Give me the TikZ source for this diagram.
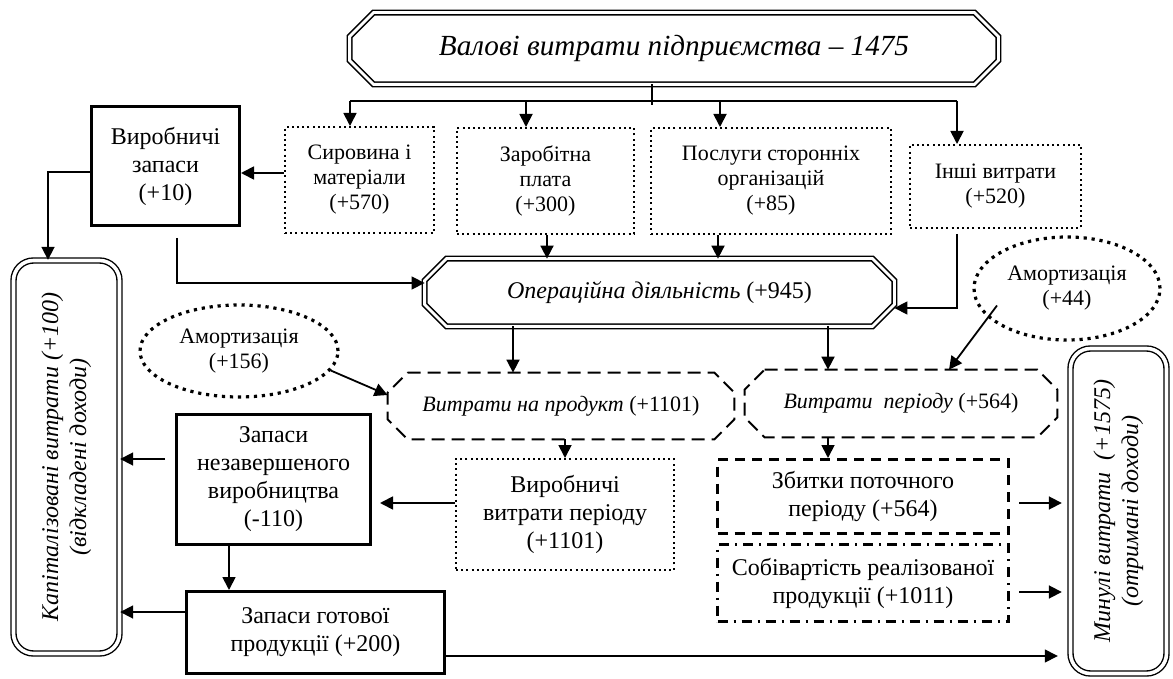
\documentclass[tikz,border=0pt]{standalone}
\usepackage{fontspec}
\setmainfont{Liberation Serif}
\usepackage{graphicx}
\usetikzlibrary{positioning, arrows.meta, shapes.geometric, calc}

% octagon outline round a rectangular node: node, chamfer (px), style
\newcommand{\octapath}[3]{%
  \draw[#3] ($(#1.north west)+(#2,0)$) -- ($(#1.north east)+(-#2,0)$)
    -- ($(#1.north east)+(0,#2)$) -- ($(#1.south east)+(0,-#2)$)
    -- ($(#1.south east)+(-#2,0)$) -- ($(#1.south west)+(#2,0)$)
    -- ($(#1.south west)+(0,-#2)$) -- ($(#1.north west)+(0,#2)$) -- cycle;}

\begin{document}
\begin{tikzpicture}[
    x=0.5pt, y=-0.5pt,
    base/.style={align=center, inner sep=1pt, font=\fontsize{12}{14}\selectfont},
    small/.style={font=\fontsize{11}{12.5}\selectfont},
    solidbox/.style={base, rectangle, draw, line width=1.5pt},
    dotbox/.style={base, rectangle, draw, line width=1pt, dash pattern=on 1pt off 1.6pt},
    dashbox/.style={base, rectangle, draw, line width=1.5pt, dash pattern=on 5pt off 3.5pt},
    dashdotbox/.style={base, rectangle, draw, line width=1.5pt,
                       dash pattern=on 5pt off 3pt on 1pt off 3pt},
    octabox/.style={base, rectangle},
    doubleline/.style={double, line width=0.8pt, double distance=1.4pt},
    dashline/.style={line width=1pt, dash pattern=on 6.5pt off 3.5pt},
    roundbox/.style={base, rectangle, rounded corners=10pt, draw, double,
                     line width=0.7pt, double distance=1.8pt},
    amort/.style={base, small, ellipse, draw, line width=1.6pt,
                  dash pattern=on 1.6pt off 2.4pt, inner sep=0pt},
    arr/.style={-{Triangle[length=6.5pt, width=6.5pt]}, line width=0.9pt},
    tarr/.style={arr, line width=0.7pt},
]
\useasboundingbox (0,0) rectangle (1173,679);

% Top: gross costs
\node[octabox, font=\fontsize{14.6}{17}\selectfont\itshape, minimum width=324pt,
      minimum height=35.5pt] (valovi) at (674,48.5)
      {Валові витрати підприємства – 1475};
\octapath{valovi}{24}{doubleline}
\coordinate (bus) at (652,101);

% Row 1: cost elements
\node[dotbox, small, minimum width=74.5pt, minimum height=53pt] (syr) at (359.5,180) {Сировина і\\матеріали\\(+570)};
\node[dotbox, small, minimum width=88.5pt, minimum height=53pt] (zar) at (545.5,181) {Заробітна\\плата\\(+300)};
\node[dotbox, small, minimum width=120pt, minimum height=53pt] (pos) at (771,181) {Послуги сторонніх\\організацій\\(+85)};
\node[dotbox, small, minimum width=85.5pt, minimum height=41.5pt] (inshi) at (995.5,186.5) {Інші витрати\\(+520)};
\node[solidbox, minimum width=74pt, minimum height=59.5pt] (vyrzap) at (165.5,166) {Виробничі\\запаси\\(+10)};

% Row 2: operations
\node[octabox, minimum width=234.5pt, minimum height=33.5pt] (oper) at (659.5,292.5) {\textit{Операційна діяльність} (+945)};
\octapath{oper}{22}{doubleline}
\node[amort, minimum width=99pt, minimum height=46pt] (am1) at (239,351) {Амортизація\\(+156)};
\node[amort, minimum width=93pt, minimum height=51.5pt] (am2) at (1067,288.5) {Амортизація\\(+44)};

% Side blocks
\node[roundbox, minimum width=53pt, minimum height=196.5pt] (kap) at (66.5,457)
    {\rotatebox{90}{\itshape\begin{tabular}{@{}c@{}}Капіталізовані витрати (+100)\\(відкладені доходи)\end{tabular}}};
\node[roundbox, minimum width=48pt, minimum height=162.5pt] (min) at (1118.5,511)
    {\rotatebox{90}{\itshape\begin{tabular}{@{}c@{}}Минулі витрати\ \ (+1575)\\(отримані доходи)\end{tabular}}};

% Row 3: product / period costs
\node[octabox, small, minimum width=173pt, minimum height=33pt] (vp) at (561,406) {\textit{Витрати на продукт} (+1101)};
\octapath{vp}{20}{dashline}
\node[octabox, small, minimum width=156pt, minimum height=33.5pt] (vper) at (901,403.5) {\textit{Витрати\ \ періоду} (+564)};
\octapath{vper}{20}{dashline}

% Row 4: inventories and results
\node[solidbox, minimum width=97pt, minimum height=65pt] (zn) at (273.5,479.5) {Запаси\\незавершеного\\виробництва\\(-110)};
\node[dotbox, minimum width=109pt, minimum height=55.5pt] (virvyt) at (565,514.5) {Виробничі\\витрати періоду\\(+1101)};
\node[solidbox, minimum width=129pt, minimum height=41pt] (zg) at (315.5,632.5) {Запаси готової\\продукції (+200)};
\node[dashbox, minimum width=145.5pt, minimum height=37pt] (zb) at (863,496.5) {Збитки поточного\\періоду (+564)};
\node[dashdotbox, minimum width=145.5pt, minimum height=38.5pt] (sob) at (863,583) {Собівартість реалізованої\\продукції (+1011)};

% Arrows
\draw[line width=0.9pt] (valovi.south -| bus) -- ([yshift=-2pt]bus);
\draw[line width=0.9pt] ([xshift=-4.75pt]syr.north |- bus) -- ([xshift=-19.25pt]inshi.north |- bus);
\draw[arr] ([xshift=-4.75pt]syr.north |- bus) -- ([xshift=-4.75pt]syr.north);
\draw[arr] ([xshift=-9.75pt]zar.north |- bus) -- ([xshift=-9.75pt]zar.north);
\draw[arr] ([xshift=-25.5pt]pos.north |- bus) -- ([xshift=-25.5pt]pos.north);
\draw[arr] ([xshift=-19.25pt]inshi.north |- bus) -- ([xshift=-19.25pt]inshi.north);
\draw[arr] ([yshift=3.5pt]syr.west) -- ([yshift=3.5pt]syr.west -| vyrzap.east);
\draw[arr] ([yshift=-3pt]vyrzap.west) -| ([xshift=-9.25pt]kap.north);
\draw[tarr] ([xshift=5.75pt,yshift=-5.5pt]vyrzap.south) |- ([yshift=4.75pt]oper.west);
\draw[arr] ([xshift=0.75pt]zar.south) -- ([xshift=0.75pt]zar.south |- oper.north);
\draw[arr] ([xshift=-26.5pt]pos.south) -- ([xshift=-26.5pt]pos.south |- oper.north);
\draw[tarr] ([xshift=-19.25pt,yshift=-2.5pt]inshi.south) |- ([yshift=-7.75pt]oper.east);
\draw[arr] ([xshift=-24pt]vp.north |- oper.south) -- ([xshift=-24pt]vp.north);
\draw[arr] ([xshift=-36.5pt]vper.north |- oper.south) -- ([xshift=-36.5pt]vper.north);
\draw[arr] (am1.-12) -- ([yshift=5.5pt]vp.west);
\draw[arr] ([xshift=-35pt,yshift=-8.5pt]am2.center) -- ([xshift=24pt]vper.north);
\draw[arr] (virvyt.north |- vp.south) -- (virvyt.north);
\draw[arr] ([xshift=-36.5pt]vper.south) -- ([xshift=-36.5pt]vper.south |- zb.north);
\draw[arr] ([yshift=5.75pt]virvyt.west) -- ([xshift=4pt,yshift=5.75pt]zn.east |- virvyt.west);
\draw[arr] ([xshift=-5pt,yshift=10.25pt]zn.west) -- ([yshift=10.25pt]zn.west -| kap.east);
\draw[arr] ([xshift=-22.25pt]zn.south) -- ([xshift=-22.25pt]zn.south |- zg.north);
\draw[arr] ([yshift=10.25pt]zg.west) -- ([yshift=10.25pt]zg.west -| kap.east);
\draw[tarr] ([yshift=-11.75pt]zg.east) -- ([xshift=-6pt,yshift=-11.75pt]zg.east -| min.west);
\draw[arr] ([xshift=4.5pt,yshift=-3.25pt]zb.east) -- ([xshift=-4pt,yshift=-3.25pt]zb.east -| min.west);
\draw[arr] ([xshift=4.5pt,yshift=-4.5pt]sob.east) -- ([xshift=-4pt,yshift=-4.5pt]sob.east -| min.west);

\end{tikzpicture}
\end{document}
